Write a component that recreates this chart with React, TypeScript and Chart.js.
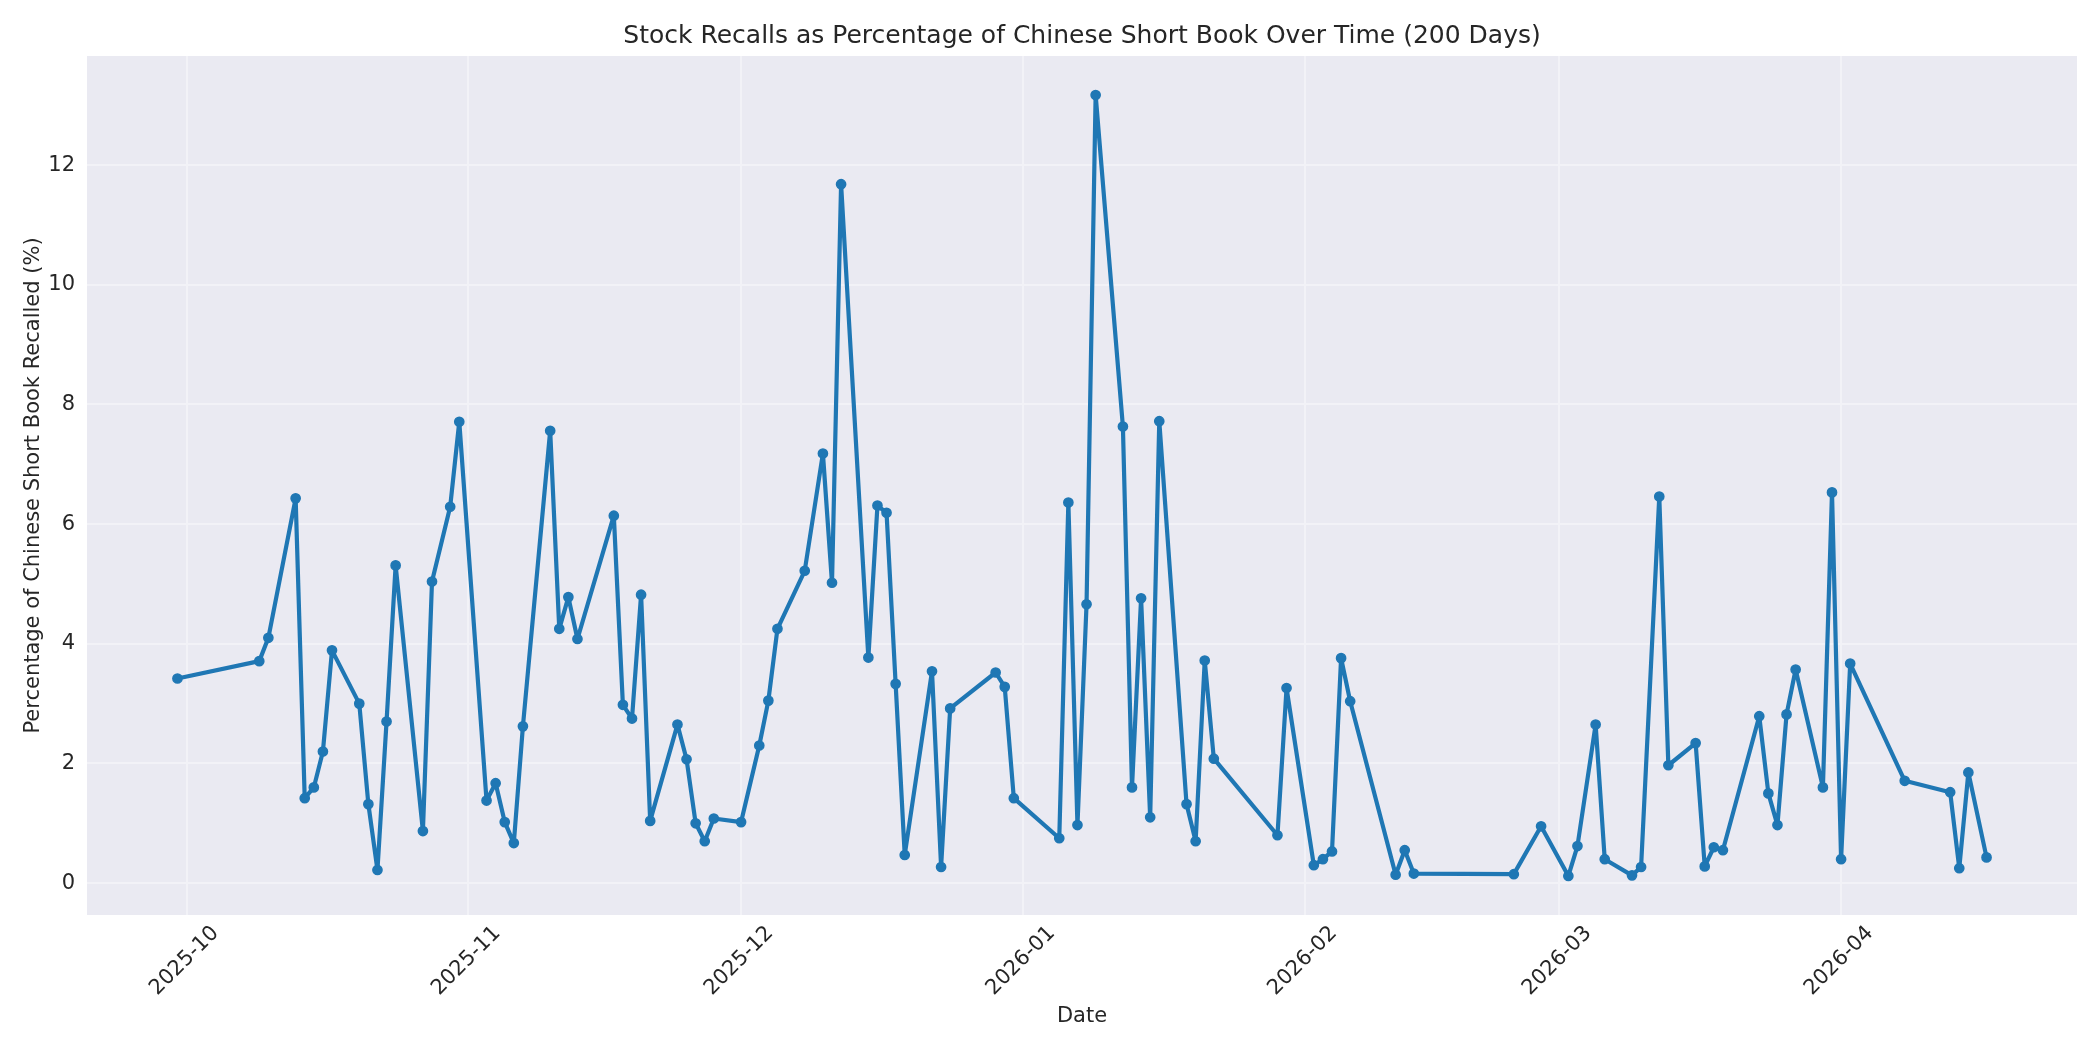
import { useEffect, useRef } from "react";
import { Chart, registerables } from "chart.js";

Chart.register(...registerables);

const dates = [
  "2025-09-30", "2025-10-09", "2025-10-10", "2025-10-13", "2025-10-14", "2025-10-15", "2025-10-16", "2025-10-17",
  "2025-10-20", "2025-10-21", "2025-10-22", "2025-10-23", "2025-10-24", "2025-10-27", "2025-10-28", "2025-10-30",
  "2025-10-31", "2025-11-03", "2025-11-04", "2025-11-05", "2025-11-06", "2025-11-07", "2025-11-10", "2025-11-11",
  "2025-11-12", "2025-11-13", "2025-11-17", "2025-11-18", "2025-11-19", "2025-11-20", "2025-11-21", "2025-11-24",
  "2025-11-25", "2025-11-26", "2025-11-27", "2025-11-28", "2025-12-01", "2025-12-03", "2025-12-04", "2025-12-05",
  "2025-12-08", "2025-12-10", "2025-12-11", "2025-12-12", "2025-12-15", "2025-12-16", "2025-12-17", "2025-12-18",
  "2025-12-19", "2025-12-22", "2025-12-23", "2025-12-24", "2025-12-29", "2025-12-30", "2025-12-31", "2026-01-05",
  "2026-01-06", "2026-01-07", "2026-01-08", "2026-01-09", "2026-01-12", "2026-01-13", "2026-01-14", "2026-01-15",
  "2026-01-16", "2026-01-19", "2026-01-20", "2026-01-21", "2026-01-22", "2026-01-29", "2026-01-30", "2026-02-02",
  "2026-02-03", "2026-02-04", "2026-02-05", "2026-02-06", "2026-02-11", "2026-02-12", "2026-02-13", "2026-02-24",
  "2026-02-27", "2026-03-02", "2026-03-03", "2026-03-05", "2026-03-06", "2026-03-09", "2026-03-10", "2026-03-12",
  "2026-03-13", "2026-03-16", "2026-03-17", "2026-03-18", "2026-03-19", "2026-03-23", "2026-03-24", "2026-03-25",
  "2026-03-26", "2026-03-27", "2026-03-30", "2026-03-31", "2026-04-01", "2026-04-02", "2026-04-08", "2026-04-13",
  "2026-04-14", "2026-04-15", "2026-04-17",
];

const recallPct = [
  3.42, 3.71, 4.10, 6.43, 1.42, 1.60, 2.20, 3.89,
  3.00, 1.32, 0.22, 2.70, 5.31, 0.87, 5.04, 6.29,
  7.71, 1.38, 1.67, 1.02, 0.67, 2.62, 7.56, 4.25,
  4.78, 4.08, 6.14, 2.98, 2.75, 4.82, 1.04, 2.65,
  2.07, 1.00, 0.70, 1.08, 1.02, 2.30, 3.05, 4.25,
  5.22, 7.18, 5.02, 11.68, 3.77, 6.31, 6.19, 3.33,
  0.47, 3.54, 0.27, 2.92, 3.52, 3.28, 1.42, 0.75,
  6.36, 0.97, 4.66, 13.17, 7.63, 1.60, 4.76, 1.10,
  7.72, 1.32, 0.70, 3.72, 2.08, 0.80, 3.26, 0.30,
  0.40, 0.53, 3.76, 3.04, 0.14, 0.55, 0.16, 0.15,
  0.95, 0.12, 0.62, 2.65, 0.40, 0.13, 0.27, 6.46,
  1.97, 2.34, 0.28, 0.60, 0.55, 2.79, 1.50, 0.97,
  2.82, 3.57, 1.60, 6.53, 0.40, 3.67, 1.71, 1.52,
  0.25, 1.85, 0.43,
];

const monthTicks = [
  "2025-10-01", "2025-11-01", "2025-12-01", "2026-01-01", "2026-02-01", "2026-03-01", "2026-04-01",
];

const yTicks = [0, 2, 4, 6, 8, 10, 12];

const TEXT = "#262626";
const GRID = "#F2F2F7";
const LINE = "#1f77b4";
const FONT = "'DejaVu Sans', sans-serif";

const toTs = (d: string) => Date.parse(d + "T00:00:00Z");

const fmtMonth = (v: number) => {
  const d = new Date(v);
  const m = d.getUTCMonth() + 1;
  return `${d.getUTCFullYear()}-${m < 10 ? "0" + m : m}`;
};

export default function App() {
  const ref = useRef<HTMLCanvasElement | null>(null);

  useEffect(() => {
    document.body.style.margin = "0";
    if (!ref.current) return;
    const xs = dates.map(toTs);
    const xMinD = Math.min(...xs);
    const xMaxD = Math.max(...xs);
    const xr = xMaxD - xMinD;
    const yMinD = Math.min(...recallPct);
    const yMaxD = Math.max(...recallPct);
    const yr = yMaxD - yMinD;
    const monthTs = monthTicks.map(toTs);

    const bgPlugin = {
      id: "bg",
      beforeDraw(chart: any) {
        const { ctx, chartArea: a } = chart;
        ctx.save();
        ctx.fillStyle = "#ffffff";
        ctx.fillRect(0, 0, chart.width, chart.height);
        ctx.fillStyle = "#EAEAF2";
        ctx.fillRect(a.left, a.top, a.right - a.left, a.bottom - a.top);
        ctx.restore();
      },
    };

    const chart = new Chart(ref.current, {
      type: "line",
      data: {
        datasets: [
          {
            data: xs.map((x, i) => ({ x, y: recallPct[i] })),
            borderColor: LINE,
            backgroundColor: LINE,
            borderWidth: 4.2,
            borderJoinStyle: "round",
            borderCapStyle: "round",
            pointRadius: 4.6,
            pointBorderWidth: 1.5,
            pointBackgroundColor: LINE,
            pointBorderColor: LINE,
            tension: 0,
            fill: false,
          },
        ],
      },
      options: {
        animation: false,
        responsive: false,
        devicePixelRatio: 1,
        layout: { padding: { left: 0, right: 23, top: 0, bottom: 0 } },
        plugins: {
          legend: { display: false },
          tooltip: { enabled: false },
          title: {
            display: true,
            fullSize: false,
            text: "Stock Recalls as Percentage of Chinese Short Book Over Time (200 Days)",
            color: TEXT,
            font: { family: FONT, size: 25, weight: "normal" },
            padding: { top: 21, bottom: 5 },
          },
        },
        scales: {
          x: {
            type: "linear",
            min: xMinD - 0.05 * xr,
            max: xMaxD + 0.05 * xr,
            afterBuildTicks: (s: any) => {
              s.ticks = monthTs.map((v) => ({ value: v }));
            },
            afterFit: (s: any) => {
              s.height = 135;
            },
            ticks: {
              autoSkip: false,
              minRotation: 45,
              maxRotation: 45,
              labelOffset: 29,
              padding: 6,
              color: TEXT,
              font: { family: FONT, size: 21 },
              callback: (v: any) => fmtMonth(Number(v)),
            },
            grid: { color: GRID, lineWidth: 2, drawTicks: false },
            border: { display: false },
            title: {
              display: true,
              text: "Date",
              color: TEXT,
              font: { family: FONT, size: 21 },
              padding: { top: 0, bottom: 21 },
            },
          },
          y: {
            type: "linear",
            min: yMinD - 0.05 * yr,
            max: yMaxD + 0.05 * yr,
            afterBuildTicks: (s: any) => {
              s.ticks = yTicks.map((v) => ({ value: v }));
            },
            afterFit: (s: any) => {
              s.width = 87;
            },
            ticks: {
              padding: 12,
              color: TEXT,
              font: { family: FONT, size: 21 },
              callback: (v: any) => String(v),
            },
            grid: { color: GRID, lineWidth: 2, drawTicks: false },
            border: { display: false },
            title: {
              display: true,
              text: "Percentage of Chinese Short Book Recalled (%)",
              color: TEXT,
              font: { family: FONT, size: 21 },
              padding: { top: 21, bottom: 0 },
            },
          },
        },
      },
      plugins: [bgPlugin],
    } as any);

    return () => chart.destroy();
  }, []);

  return (
    <div style={{ width: 2100, height: 1050 }}>
      <canvas ref={ref} width={2100} height={1050} style={{ display: "block", width: 2100, height: 1050 }} />
    </div>
  );
}
